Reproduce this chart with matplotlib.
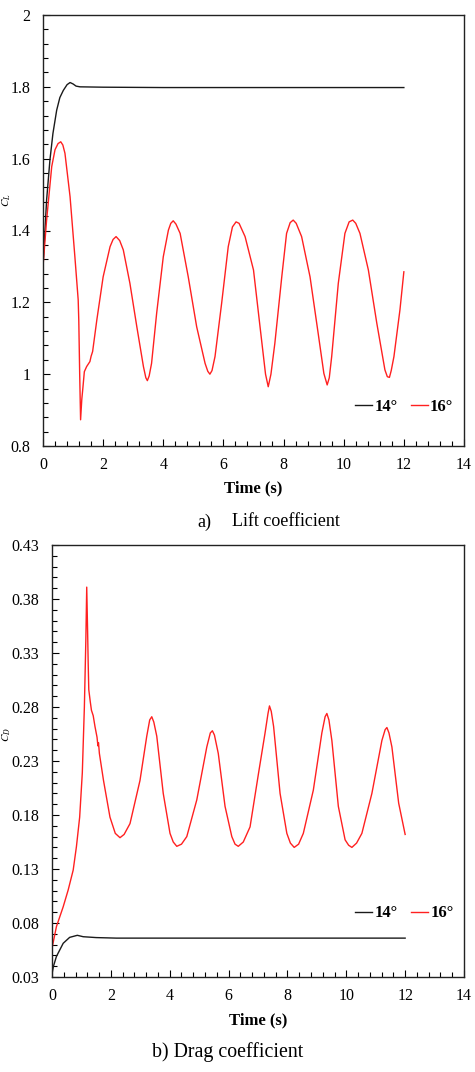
import matplotlib
matplotlib.use("Agg")
import matplotlib.pyplot as plt
from matplotlib.ticker import MultipleLocator, FormatStrFormatter, FuncFormatter

plt.rcParams['font.family'] = ['Liberation Serif', 'DejaVu Serif']
plt.rcParams['mathtext.fontset'] = 'stix'

# ---------------- data: lift coefficient ----------------
lift_t_14 = [0.00, 0.12, 0.23, 0.33, 0.455, 0.56, 0.675, 0.80, 0.90, 1.00, 1.10, 1.23, 2.0, 4.0, 8.0, 12.0]
lift_14 = [1.300, 1.485, 1.596, 1.670, 1.735, 1.770, 1.790, 1.806, 1.812, 1.808, 1.802, 1.800, 1.799, 1.798, 1.798, 1.798]

lift_t_16 = [0.00, 0.12, 0.29, 0.40, 0.50, 0.59, 0.66, 0.73, 0.90, 1.06, 1.17, 1.19, 1.22, 1.25, 1.29, 1.32,
             1.375, 1.45, 1.52, 1.56, 1.60, 1.65, 1.79, 2.00, 2.23, 2.33, 2.43, 2.55, 2.67, 2.89,
             3.12, 3.34, 3.42, 3.47, 3.53, 3.61, 3.78, 4.00, 4.17, 4.25, 4.33, 4.42, 4.56, 4.83,
             5.11, 5.39, 5.48, 5.55, 5.62, 5.72, 5.94, 6.16, 6.30, 6.42, 6.52, 6.72, 7.00, 7.22,
             7.40, 7.49, 7.58, 7.71, 7.94, 8.10, 8.22, 8.32, 8.42, 8.60, 8.88, 9.15, 9.34, 9.45,
             9.52, 9.60, 9.82, 10.04, 10.18, 10.30, 10.40, 10.54, 10.82, 11.10, 11.37, 11.45,
             11.52, 11.58, 11.67, 11.87, 12.00]
lift_16 = [1.299, 1.429, 1.578, 1.625, 1.642, 1.647, 1.638, 1.615, 1.494, 1.327, 1.207, 1.150, 1.000, 0.873, 0.930, 0.956,
           1.007, 1.021, 1.030, 1.035, 1.050, 1.063, 1.151, 1.271, 1.355, 1.375, 1.383, 1.372, 1.346, 1.253,
           1.132, 1.021, 0.990, 0.982, 0.995, 1.030, 1.170, 1.327, 1.401, 1.420, 1.427, 1.418, 1.392, 1.271,
           1.132, 1.030, 1.008, 1.000, 1.010, 1.049, 1.197, 1.355, 1.410, 1.424, 1.420, 1.383, 1.290, 1.130,
           1.000, 0.965, 1.000, 1.086, 1.271, 1.392, 1.422, 1.429, 1.420, 1.383, 1.271, 1.114, 1.002, 0.970,
           0.990, 1.049, 1.253, 1.392, 1.424, 1.429, 1.420, 1.392, 1.290, 1.142, 1.012, 0.993,
           0.991, 1.010, 1.049, 1.179, 1.285]

# ---------------- data: drag coefficient ----------------
drag_t_14 = [0.00, 0.05, 0.15, 0.38, 0.60, 0.86, 1.06, 1.50, 2.19, 6.0, 12.0]
drag_14 = [0.033, 0.040, 0.049, 0.0612, 0.0667, 0.0686, 0.0673, 0.0665, 0.0660, 0.0660, 0.0660]

drag_t_16 = [0.00, 0.15, 0.38, 0.55, 0.72, 0.83, 0.94, 1.03, 1.10, 1.15, 1.18, 1.21, 1.23, 1.25,
             1.30, 1.34, 1.40, 1.46, 1.53, 1.56, 1.58, 1.61, 1.75, 1.97, 2.15, 2.31, 2.45, 2.65,
             2.99, 3.22, 3.32, 3.39, 3.46, 3.56, 3.78, 4.01, 4.12, 4.24, 4.40, 4.58, 4.92, 5.26,
             5.38, 5.45, 5.52, 5.65, 5.88, 6.11, 6.22, 6.33, 6.50, 6.73, 7.02, 7.24, 7.34, 7.39,
             7.45, 7.53, 7.75, 7.98, 8.10, 8.23, 8.38, 8.54, 8.88, 9.17, 9.28, 9.34, 9.41, 9.51,
             9.73, 9.96, 10.08, 10.19, 10.35, 10.53, 10.87, 11.21, 11.32, 11.38, 11.45, 11.55,
             11.78, 12.00]
drag_16 = [0.0566, 0.0766, 0.095, 0.1106, 0.129, 0.1507, 0.178, 0.219, 0.280, 0.342, 0.391, 0.350, 0.320, 0.296,
           0.285, 0.277, 0.272, 0.262, 0.252, 0.244, 0.247, 0.237, 0.212, 0.178, 0.163, 0.159, 0.162, 0.172,
           0.212, 0.253, 0.268, 0.271, 0.266, 0.253, 0.200, 0.163, 0.155, 0.151, 0.153, 0.160, 0.194, 0.243,
           0.256, 0.258, 0.254, 0.237, 0.188, 0.160, 0.153, 0.151, 0.155, 0.169, 0.219, 0.256, 0.274, 0.281,
           0.276, 0.262, 0.200, 0.163, 0.154, 0.150, 0.153, 0.163, 0.203, 0.256, 0.271, 0.274, 0.268, 0.249,
           0.188, 0.157, 0.152, 0.150, 0.154, 0.163, 0.200, 0.249, 0.259, 0.261, 0.256, 0.243,
           0.191, 0.162]

series_labels = ["14\u00b0", "16\u00b0"]
series_colors = ["#1a1a1a", "#ff2020"]
x_ticks = [0, 2, 4, 6, 8, 10, 12, 14]
lift_yticks = [0.8, 1.0, 1.2, 1.4, 1.6, 1.8, 2.0]
drag_yticks = [0.03, 0.08, 0.13, 0.18, 0.23, 0.28, 0.33, 0.38, 0.43]

W, H = 475, 1072
fig = plt.figure(figsize=(W / 100, H / 100), dpi=100)

def px_axes(l, t, r, b):
    return fig.add_axes([l / W, 1 - b / H, (r - l) / W, (b - t) / H])

ax1 = px_axes(43, 15, 464, 446)
ax2 = px_axes(52, 545, 464, 977)

TICK_FS = 11.5

def style(ax, yticks, yminor, fmt, xlabel_y):
    ax.set_xlim(0, 14)
    ax.set_xticks(x_ticks)
    ax.xaxis.set_minor_locator(MultipleLocator(0.4))
    ax.set_yticks(yticks)
    ax.yaxis.set_minor_locator(MultipleLocator(yminor))
    ax.yaxis.set_major_formatter(fmt)
    ax.tick_params(which='both', direction='in', top=False, right=False, labelsize=TICK_FS)
    ax.tick_params(which='major', length=5, width=0.8)
    ax.tick_params(which='minor', length=3.5, width=0.8)
    ax.tick_params(axis='y', pad=9)
    ax.tick_params(axis='x', pad=8)
    for s in ax.spines.values():
        s.set_linewidth(1.0)
        s.set_color('#222222')
    ax.set_xlabel('Time (s)', fontweight='bold', fontsize=12, va='center')
    ax.xaxis.set_label_coords(0.5, xlabel_y)

# top panel
ax1.plot(lift_t_14, lift_14, color=series_colors[0], lw=1.0, label=series_labels[0])
ax1.plot(lift_t_16, lift_16, color=series_colors[1], lw=1.0, label=series_labels[1])
ax1.set_ylim(0.8, 2.0)
style(ax1, lift_yticks, 0.04, FuncFormatter(lambda v, p: f"{v:g}"), -0.0975)
ax1.legend(loc='center right', bbox_to_anchor=(0.975, 0.091), ncol=2, frameon=False,
           prop={'weight': 'bold', 'size': 12}, handlelength=1.0, handletextpad=0.15,
           columnspacing=0.8, borderaxespad=0, borderpad=0)

# bottom panel
ax2.plot(drag_t_14, drag_14, color=series_colors[0], lw=1.0, label=series_labels[0])
ax2.plot(drag_t_16, drag_16, color=series_colors[1], lw=1.0, label=series_labels[1])
ax2.set_ylim(0.03, 0.43)
style(ax2, drag_yticks, 0.01, FormatStrFormatter('%.2f'), -0.0995)
ax2.legend(loc='center right', bbox_to_anchor=(0.975, 0.147), ncol=2, frameon=False,
           prop={'weight': 'bold', 'size': 12}, handlelength=1.0, handletextpad=0.15,
           columnspacing=0.8, borderaxespad=0, borderpad=0)

# y labels (at the very left edge, as in the original)
fig.text(0.5 / W, 1 - 200 / H, '$C_L$', rotation=90, fontsize=8, ha='left', va='center')
fig.text(0.5 / W, 1 - 735 / H, '$C_D$', rotation=90, fontsize=8, ha='left', va='center')

# captions
fig.text(197 / W, 1 - 522 / H, 'a)', fontsize=13, ha='left', va='center')
fig.text(232 / W, 1 - 522 / H, 'Lift coefficient', fontsize=13, ha='left', va='center')
fig.text(228 / W, 1 - 1052 / H, 'b) Drag coefficient', fontsize=14.3, ha='center', va='center')

fig.savefig('out.png', dpi=100)
